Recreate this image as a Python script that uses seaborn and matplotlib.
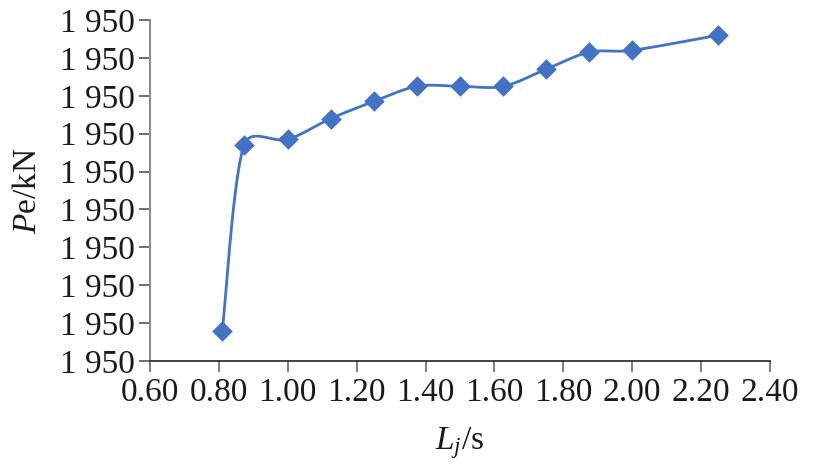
import numpy as np
import pandas as pd
import matplotlib
matplotlib.use("Agg")
import matplotlib.pyplot as plt
import matplotlib.ticker as mticker
import seaborn as sns

# Data
lj = [0.81, 0.873, 1.00, 1.125, 1.25, 1.375, 1.50, 1.625, 1.75, 1.875, 2.00, 2.25]
pe = [1949.926, 1950.024, 1950.027, 1950.038, 1950.047, 1950.055,
      1950.055, 1950.055, 1950.064, 1950.073, 1950.074, 1950.082]
x_ticks = [0.60, 0.80, 1.00, 1.20, 1.40, 1.60, 1.80, 2.00, 2.20, 2.40]
y_ticks = [1949.91 + 0.02 * i for i in range(10)]

sns.set_theme(style="white")
plt.rcParams['font.family'] = ['Liberation Serif', 'DejaVu Serif']
plt.rcParams['mathtext.fontset'] = 'custom'
plt.rcParams['mathtext.rm'] = 'Liberation Serif'
plt.rcParams['mathtext.it'] = 'Liberation Serif:italic'

color = '#4472C4'
fig = plt.figure(figsize=(8.17, 4.73), dpi=100)
ax = fig.add_axes([150 / 817, 1 - 361 / 473, (770 - 150) / 817, (361 - 20) / 473])
ax.set_xlim(0.60, 2.40)
ax.set_ylim(y_ticks[0], y_ticks[-1])

# Excel-like smoothed line (Bezier in screen-proportional space)
W = 620.0 / (2.40 - 0.60)
H = 341.0 / (y_ticks[-1] - y_ticks[0])
P = np.column_stack([(np.array(lj) - 0.60) * W, (np.array(pe) - y_ticks[0]) * H])
n = len(P)


def clamp(v, lim):
    L = np.hypot(*v)
    return v if L <= lim or L == 0 else v * (lim / L)


curve = []
for i in range(n - 1):
    p0 = P[i - 1] if i > 0 else P[i]
    p1 = P[i]
    p2 = P[i + 1]
    p3 = P[i + 2] if i + 2 < n else P[i + 1]
    chord = np.hypot(*(p2 - p1))
    c1 = p1 + clamp((p2 - p0) / 6.0, 0.45 * chord)
    c2 = p2 - clamp((p3 - p1) / 6.0, 0.45 * chord)
    t = np.linspace(0, 1, 40)[:, None]
    seg = ((1 - t) ** 3) * p1 + 3 * ((1 - t) ** 2) * t * c1 + 3 * (1 - t) * t ** 2 * c2 + t ** 3 * p2
    curve.append(seg if i == 0 else seg[1:])
curve = np.vstack(curve)
cx = curve[:, 0] / W + 0.60
cy = curve[:, 1] / H + y_ticks[0]
ax.plot(cx, cy, color=color, lw=2.0, zorder=2)

df = pd.DataFrame({'Lj': lj, 'Pe': pe})
sns.scatterplot(data=df, x='Lj', y='Pe', marker='D', s=110, color=color,
                edgecolor=color, linewidth=0, ax=ax, zorder=3)

ax.set_xticks(x_ticks)
ax.set_xticklabels([f"{v:.2f}" for v in x_ticks])
ax.set_yticks(y_ticks)
ax.yaxis.set_major_formatter(mticker.FuncFormatter(lambda v, p: f"{round(v):,}".replace(',', ' ')))

for s in ['top', 'right']:
    ax.spines[s].set_visible(False)
ax.spines['left'].set_color('#8c8c8c')
ax.spines['left'].set_linewidth(1.5)
ax.spines['bottom'].set_color('#222222')
ax.spines['bottom'].set_linewidth(1.2)
ax.tick_params(axis='y', which='major', direction='out', length=8, width=1.2,
               color='#555555', labelsize=24, labelcolor='#1a1a1a', pad=3, left=True)
ax.tick_params(axis='x', which='major', direction='out', length=8, width=1.2,
               color='#666666', labelsize=24, labelcolor='#1a1a1a', pad=4, bottom=True)

ax.set_xlabel(r'$\mathit{L}_{\mathit{j}}$/s', fontsize=24, color='#1a1a1a', labelpad=12)
ax.set_ylabel(r'$\mathit{P}$e/kN', fontsize=24, color='#1a1a1a', labelpad=12)
ax.grid(False)

fig.savefig('out.png', dpi=100, facecolor='white')
